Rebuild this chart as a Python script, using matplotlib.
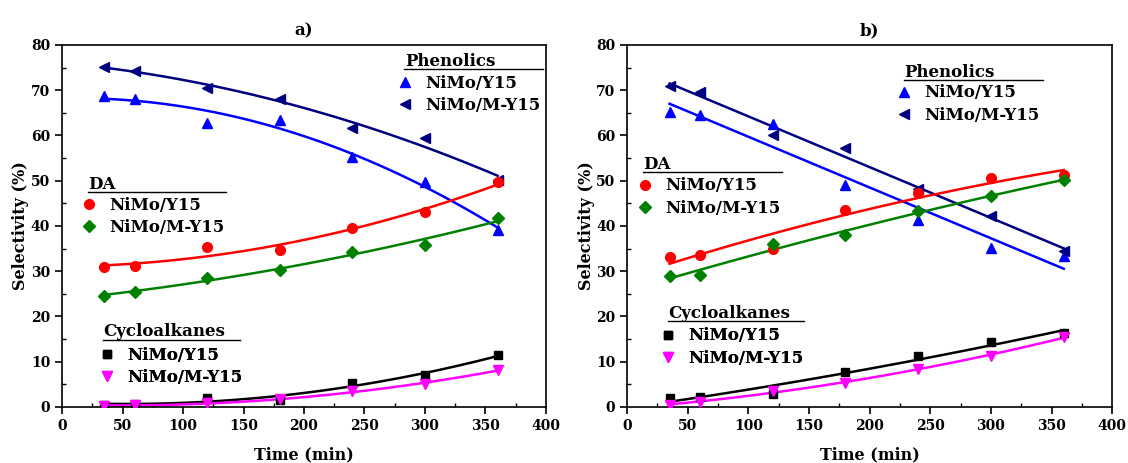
import numpy as np
import matplotlib
matplotlib.use("Agg")
import matplotlib.pyplot as plt
from matplotlib.lines import Line2D
from matplotlib.ticker import MultipleLocator

plt.rcParams['font.family'] = 'DejaVu Serif'
plt.rcParams['font.weight'] = 'bold'

time = [35, 60, 120, 180, 240, 300, 360]

# panel a)
a_phen_y15 = [68.7, 68.0, 62.8, 63.5, 55.2, 49.7, 39.0]
a_phen_my15 = [75.2, 74.2, 70.5, 68.0, 61.6, 59.5, 50.2]
a_da_y15 = [31.0, 31.2, 35.3, 34.6, 39.6, 43.1, 49.6]
a_da_my15 = [24.6, 25.4, 28.6, 30.3, 34.3, 35.8, 41.7]
a_cyc_y15 = [0.5, 0.7, 1.9, 1.5, 5.3, 7.1, 11.4]
a_cyc_my15 = [0.3, 0.4, 0.8, 1.7, 3.5, 5.0, 8.2]

# panel b)
b_phen_y15 = [65.2, 64.6, 62.5, 49.0, 41.4, 35.2, 33.3]
b_phen_my15 = [71.0, 69.6, 60.0, 57.3, 48.1, 42.3, 34.4]
b_da_y15 = [33.2, 33.5, 34.8, 43.5, 47.3, 50.6, 51.2]
b_da_my15 = [28.9, 29.2, 36.0, 37.9, 43.3, 46.6, 50.2]
b_cyc_y15 = [1.9, 2.2, 2.9, 7.8, 11.2, 14.3, 16.3]
b_cyc_my15 = [0.5, 1.1, 3.6, 5.3, 8.5, 11.2, 15.5]

labels = ['NiMo/Y15', 'NiMo/M-Y15']

styles = {
    'phen_y15': dict(color='#0000ff', marker='^'),
    'phen_my15': dict(color='#000080', marker='<'),
    'da_y15': dict(color='#ff0000', marker='o'),
    'da_my15': dict(color='#008000', marker='D'),
    'cyc_y15': dict(color='#000000', marker='s'),
    'cyc_my15': dict(color='#ff00ff', marker='v'),
}


def msize(m):
    return 6 if m in ('D', 's') else 7


def series(ax, y, key, deg):
    st = styles[key]
    ax.plot(time, y, linestyle='none', marker=st['marker'], color=st['color'],
            markersize=msize(st['marker']), zorder=3)
    # fitted trend line
    coef = np.polyfit(time, y, deg)
    xx = np.linspace(time[0], time[-1], 100)
    ax.plot(xx, np.polyval(coef, xx), color=st['color'], lw=1.8, zorder=2)


def group_legend(ax, title, keys, title_xy, line_x, line_y, leg_xy):
    # underlined group title
    ax.text(title_xy[0], title_xy[1], title, transform=ax.transAxes, fontsize=12,
            fontweight='bold', ha='left', va='baseline')
    ax.plot(line_x, [line_y, line_y], transform=ax.transAxes, color='black', lw=1.0)
    handles = []
    for k in keys:
        st = styles[k]
        handles.append(Line2D([], [], linestyle='none', marker=st['marker'],
                              color=st['color'], markersize=msize(st['marker'])))
    leg = ax.legend(handles, labels, loc='upper left', bbox_to_anchor=leg_xy,
                    frameon=False, fontsize=12, handletextpad=0.7, handlelength=1.0,
                    labelspacing=0.33, borderaxespad=0, borderpad=0)
    ax.add_artist(leg)


def style_axes(ax, label):
    ax.set_xlim(0, 400)
    ax.set_ylim(0, 80)
    ax.xaxis.set_major_locator(MultipleLocator(50))
    ax.xaxis.set_minor_locator(MultipleLocator(25))
    ax.yaxis.set_major_locator(MultipleLocator(10))
    ax.yaxis.set_minor_locator(MultipleLocator(5))
    ax.tick_params(which='major', direction='out', length=5, width=1.2, labelsize=10)
    ax.tick_params(which='minor', direction='in', length=3, width=1.0)
    for s in ax.spines.values():
        s.set_linewidth(1.2)
    ax.set_xlabel('Time (min)', fontsize=11.5, fontweight='bold', labelpad=10)
    ax.set_ylabel('Selectivity (%)', fontsize=11.5, fontweight='bold', labelpad=1)
    ax.set_title(label, fontsize=12, fontweight='bold', pad=7)


fig = plt.figure(figsize=(11.28, 4.63), dpi=100)
ax1 = fig.add_axes([0.055, 0.121, 0.429, 0.782])
ax2 = fig.add_axes([0.556, 0.121, 0.430, 0.782])

series(ax1, a_phen_y15, 'phen_y15', 2)
series(ax1, a_phen_my15, 'phen_my15', 2)
series(ax1, a_da_y15, 'da_y15', 2)
series(ax1, a_da_my15, 'da_my15', 2)
series(ax1, a_cyc_y15, 'cyc_y15', 2)
series(ax1, a_cyc_my15, 'cyc_my15', 2)
style_axes(ax1, 'a)')
group_legend(ax1, 'Phenolics', ['phen_y15', 'phen_my15'], (0.709, 0.942), [0.707, 0.994], 0.934, (0.6915, 0.918))
group_legend(ax1, 'DA', ['da_y15', 'da_my15'], (0.054, 0.602), [0.054, 0.339], 0.594, (0.0386, 0.581))
group_legend(ax1, 'Cycloalkanes', ['cyc_y15', 'cyc_my15'], (0.0847, 0.196), [0.0847, 0.368], 0.186, (0.0758, 0.167))

series(ax2, b_phen_y15, 'phen_y15', 1)
series(ax2, b_phen_my15, 'phen_my15', 1)
series(ax2, b_da_y15, 'da_y15', 2)
series(ax2, b_da_my15, 'da_my15', 2)
series(ax2, b_cyc_y15, 'cyc_y15', 2)
series(ax2, b_cyc_my15, 'cyc_my15', 2)
style_axes(ax2, 'b)')
group_legend(ax2, 'Phenolics', ['phen_y15', 'phen_my15'], (0.571, 0.912), [0.571, 0.858], 0.904, (0.554, 0.891))
group_legend(ax2, 'DA', ['da_y15', 'da_my15'], (0.033, 0.657), [0.033, 0.320], 0.650, (0.020, 0.634))
group_legend(ax2, 'Cycloalkanes', ['cyc_y15', 'cyc_my15'], (0.0845, 0.246), [0.0845, 0.365], 0.2376, (0.0674, 0.2196))

fig.savefig('out.png', dpi=100)
